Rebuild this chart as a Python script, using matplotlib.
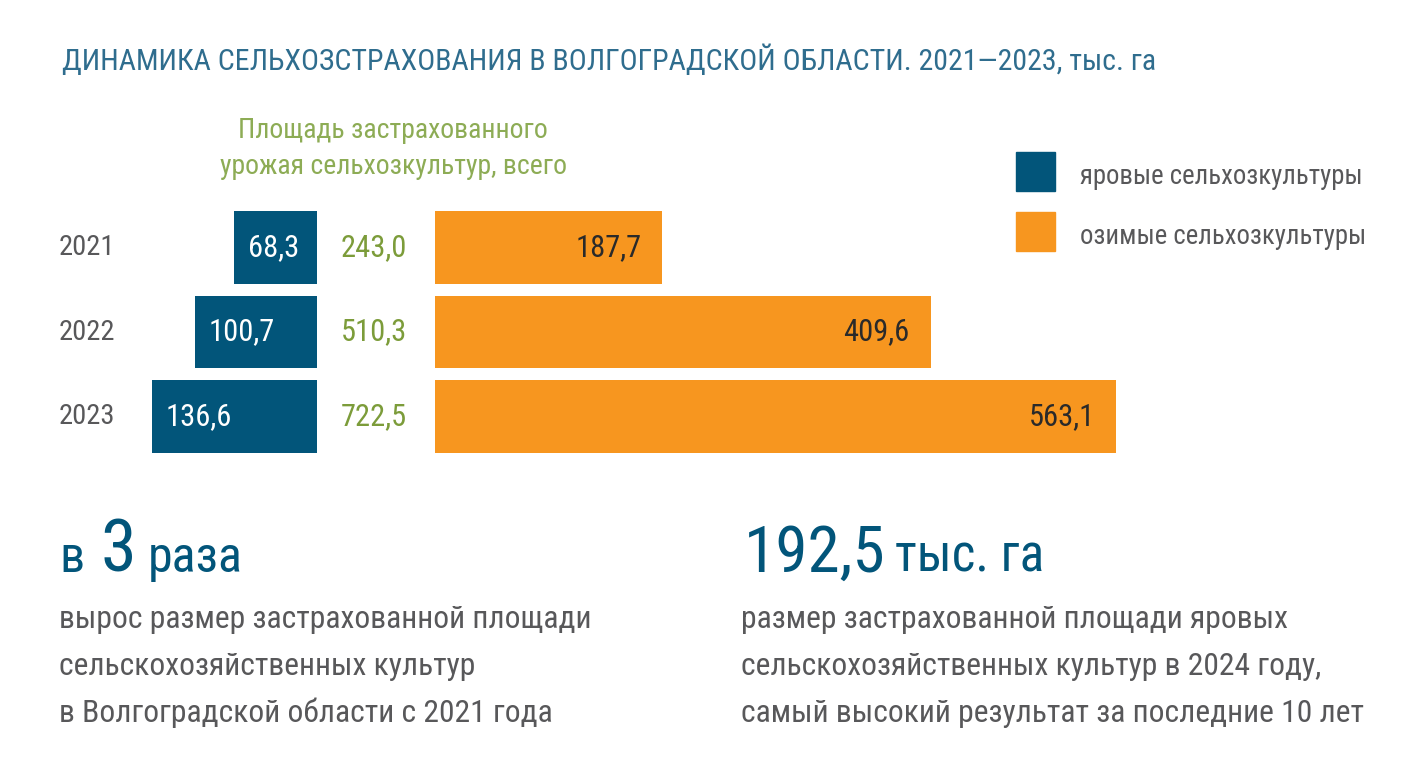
import matplotlib
matplotlib.use("Agg")
import matplotlib.pyplot as plt
from matplotlib import font_manager

# ---------------- data ----------------
years = ["2021", "2022", "2023"]
spring = [68.3, 100.7, 136.6]     # яровые
winter = [187.7, 409.6, 563.1]    # озимые
totals = [243.0, 510.3, 722.5]
spring_labels = ["68,3", "100,7", "136,6"]
winter_labels = ["187,7", "409,6", "563,1"]
total_labels = ["243,0", "510,3", "722,5"]
legend_labels = ["яровые сельхозкультуры", "озимые сельхозкультуры"]

# ---------------- fonts ----------------
names = {f.name for f in font_manager.fontManager.ttflist}
prefs = ["Roboto Condensed", "Liberation Sans Narrow", "Roboto"]
FONT = next((p for p in prefs if p in names), "DejaVu Sans")
plt.rcParams['font.family'] = [FONT, 'DejaVu Sans']

W, H = 1421, 777
fig = plt.figure(figsize=(W / 100, H / 100), dpi=100)
fig.patch.set_facecolor("white")

BLUE = "#02557a"
ORANGE = "#f7961f"
GREEN = "#7c9c3a"
LGREEN = "#8dac55"
GREY = "#58585a"
TBLUE = "#2f6d8e"

def fx(px):
    return px / W

def fy(py):
    return 1 - py / H

SCALE = 1.21  # px per unit
top_px, bot_px = 205, 459
# left axes (blue bars, growing leftwards), right edge at x=317 px
axL = fig.add_axes([0, fy(bot_px), fx(317), (bot_px - top_px) / H])
axL.set_xlim(317 / SCALE, 0)
# right axes (orange bars), left edge at x=435 px
axR = fig.add_axes([fx(435), fy(bot_px), fx(W - 435), (bot_px - top_px) / H])
axR.set_xlim(0, (W - 435) / SCALE)
for ax in (axL, axR):
    ax.set_ylim(2.5, -0.5)
    ax.axis("off")
    ax.patch.set_alpha(0)

ypos = list(range(len(years)))
axL.barh(ypos, spring, height=0.86, color=BLUE)
axR.barh(ypos, winter, height=0.86, color=ORANGE)

fs_val = 22
for i, (v, lab) in enumerate(zip(spring, spring_labels)):
    axL.annotate(lab, (v, i), xytext=(10, 0), textcoords="offset points",
                 ha="left", va="center", color="white", fontsize=fs_val)
for i, (v, lab) in enumerate(zip(winter, winter_labels)):
    axR.annotate(lab, (v, i), xytext=(-15, 0), textcoords="offset points",
                 ha="right", va="center", color="#2a2a2a", fontsize=fs_val)
for i, lab in enumerate(total_labels):
    axR.annotate(lab, (0, i), xytext=(-44, 0), textcoords="offset points",
                 ha="center", va="center", color=GREEN, fontsize=fs_val)
for i, yr in enumerate(years):
    axL.annotate(yr, (0, i), xycoords=("axes fraction", "data"),
                 xytext=(59 * 0.72, 0), textcoords="offset points",
                 ha="left", va="center", color=GREY, fontsize=20.5)

# title
fig.text(fx(62), fy(60), "ДИНАМИКА СЕЛЬХОЗСТРАХОВАНИЯ В ВОЛГОГРАДСКОЙ ОБЛАСТИ. 2021—2023, тыс. га",
         ha="left", va="center", color=TBLUE, fontsize=21.5)

# column heading
fig.text(fx(393), fy(131), "Площадь застрахованного", ha="center", va="center",
         color=LGREEN, fontsize=20)
fig.text(fx(393), fy(167), "урожая сельхозкультур, всего", ha="center", va="center",
         color=LGREEN, fontsize=20)

# legend
for yc, col, lab in [(172, BLUE, legend_labels[0]), (232, ORANGE, legend_labels[1])]:
    fig.patches.append(plt.Rectangle((fx(1016), fy(yc + 19)), fx(39), 39 / H,
                                     transform=fig.transFigure, color=col))
    fig.text(fx(1080), fy(yc + 5), lab, ha="left", va="center", color=GREY, fontsize=19.3)

# bottom left block
fig.text(fx(59), fy(572), "в", ha="left", va="baseline", color=BLUE, fontsize=36)
fig.text(fx(100), fy(572), "3", ha="left", va="baseline", color=BLUE, fontsize=52)
fig.text(fx(148), fy(572), "раза", ha="left", va="baseline", color=BLUE, fontsize=36)
left_lines = ["вырос размер застрахованной площади",
              "сельскохозяйственных культур",
              "в Волгоградской области с 2021 года"]
for k, line in enumerate(left_lines):
    fig.text(fx(59), fy(628 + 47 * k), line, ha="left", va="baseline", color=GREY, fontsize=22.8)

# bottom right block
fig.text(fx(744), fy(572), "192,5", ha="left", va="baseline", color=BLUE, fontsize=47)
fig.text(fx(895), fy(572), "тыс. га", ha="left", va="baseline", color=BLUE, fontsize=37)
right_lines = ["размер застрахованной площади яровых",
               "сельскохозяйственных культур в 2024 году,",
               "самый высокий результат за последние 10 лет"]
for k, line in enumerate(right_lines):
    fig.text(fx(741), fy(628 + 47 * k), line, ha="left", va="baseline", color=GREY, fontsize=22.8)

fig.savefig("out.png", dpi=100, facecolor="white")
